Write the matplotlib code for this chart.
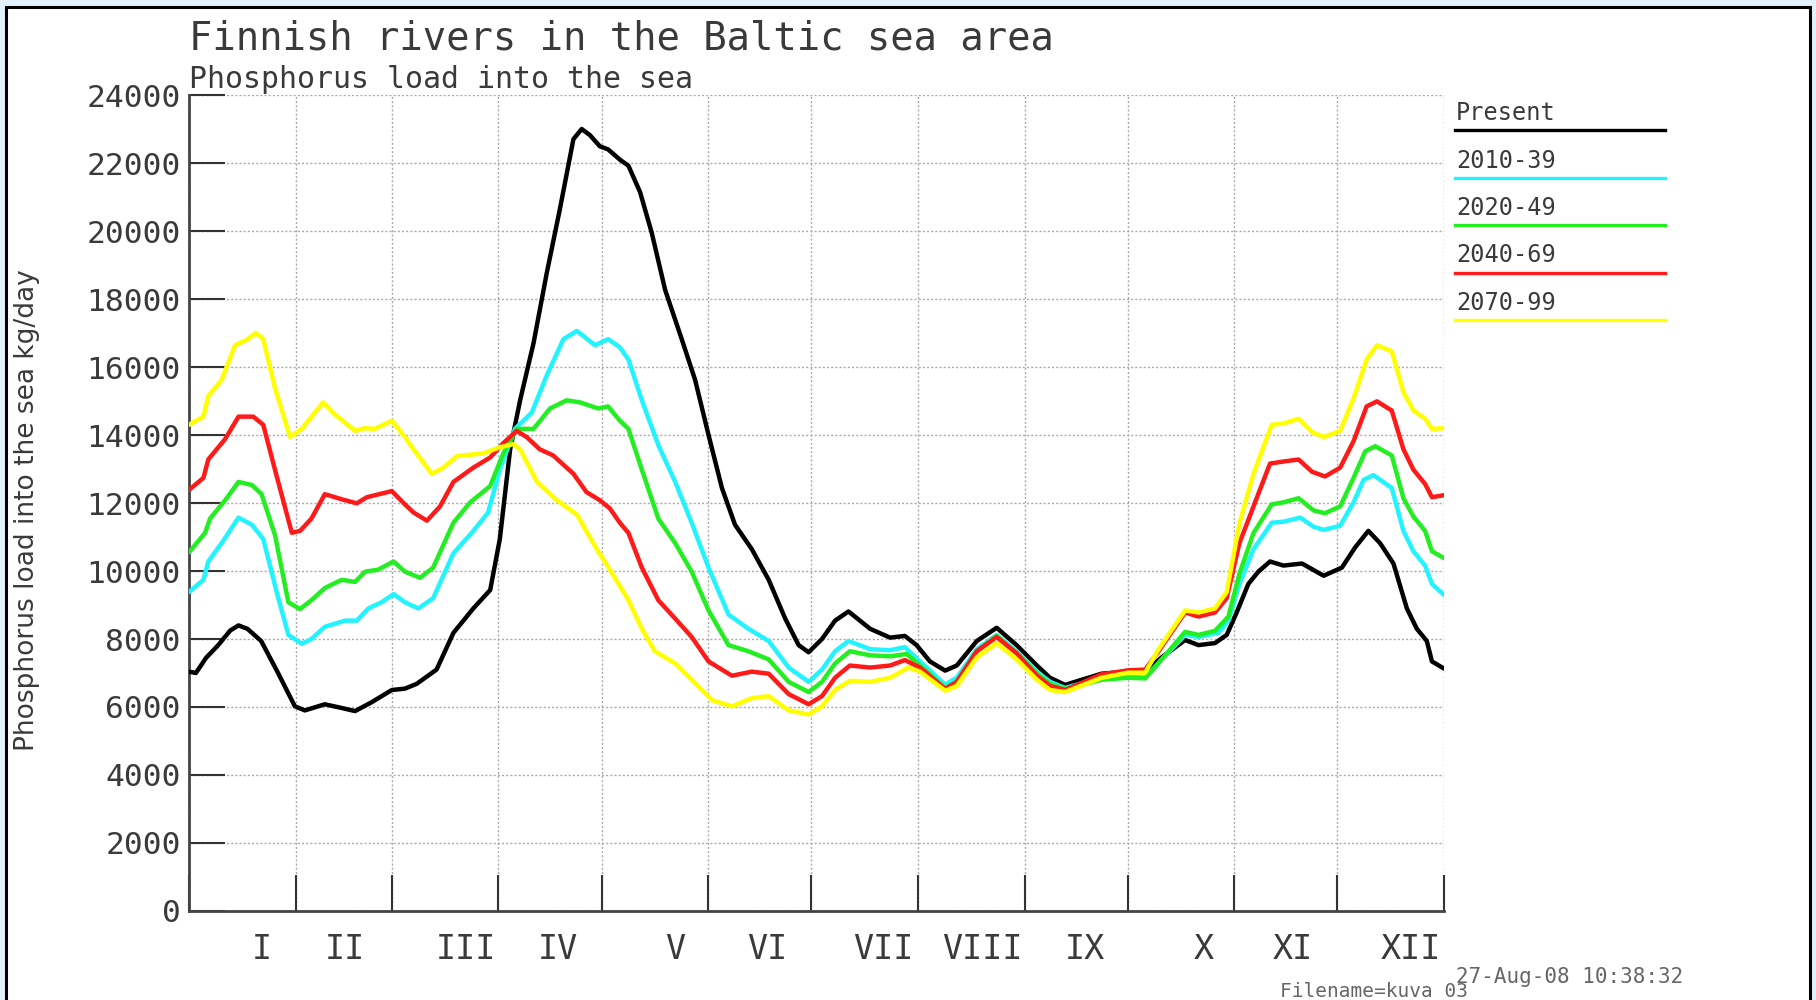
""" Finnish rivers in the Baltic sea area

Phosphorus load into the sea, present and four future scenarios

"""

import numpy as np
import matplotlib
matplotlib.use('Agg')
from matplotlib import pyplot as plt
from matplotlib.lines import Line2D
from matplotlib.patches import Rectangle

# Month boundaries (day of year) and roman month labels
month_edges = [0, 31, 59, 90, 120, 151, 181, 212, 243, 273, 304, 334, 365]
month_names = ['I', 'II', 'III', 'IV', 'V', 'VI',
               'VII', 'VIII', 'IX', 'X', 'XI', 'XII']
month_label_days = [21.2, 45.4, 80.6, 107.3, 141.4, 168.1,
                    202.0, 230.7, 260.6, 295.2, 321.1, 355.4]

yticks = list(range(0, 24001, 2000))

# Present
present_day = [0, 2, 5, 8.5, 12, 14.4, 17, 21, 26, 30.8, 33.7, 39.5, 44, 48.3,
               53.1, 59, 62.8, 66.2, 72, 76.9, 82.7, 87.6, 90.4, 93.4, 96.3,
               100.2, 104, 107.9, 111.8, 114.2, 116.6, 119.5, 121.9, 125.3,
               127.8, 131.2, 134.6, 138.5, 143.3, 147.2, 151.1, 155, 158.8,
               163.7, 168.6, 173.4, 177.3, 180.2, 184.1, 187.9, 191.8, 198.1,
               203.9, 208.2, 211.6, 215.5, 219.9, 223.3, 229.1, 234.9, 240.7,
               246.6, 250.4, 254.8, 259.6, 265.4, 273.2, 278.1, 282.9, 289.7,
               293.6, 298.4, 301.8, 304.7, 308.1, 311, 314.4, 318.3, 323.7,
               330, 335.3, 339.2, 343, 346.4, 350.3, 354.2, 357.1, 360, 361.5,
               365]
present_load = [7040, 7000, 7450, 7820, 8250, 8400, 8300, 7940, 6980, 6020,
                5900, 6080, 5980, 5880, 6140, 6500, 6540, 6680, 7100, 8180,
                8900, 9440, 10940, 13580, 15020, 16700, 18740, 20660, 22700,
                23000, 22820, 22490, 22400, 22100, 21920, 21140, 19940, 18260,
                16820, 15620, 14000, 12440, 11360, 10640, 9740, 8600, 7820,
                7610, 8000, 8540, 8810, 8300, 8040, 8090, 7820, 7340, 7070,
                7220, 7940, 8330, 7820, 7220, 6860, 6650, 6800, 6980, 7040,
                7040, 7460, 7970, 7820, 7880, 8120, 8780, 9620, 9980, 10280,
                10160, 10220, 9860, 10100, 10700, 11180, 10820, 10220, 8900,
                8300, 7940, 7340, 7130]

# 2010-39
s2010_day = [0, 4.2, 5.6, 9.5, 14.4, 18.3, 21.6, 25.5, 28.9, 32.8, 35.6, 39.5,
             45.4, 48.8, 52.2, 56, 59.5, 62.8, 66.7, 71, 76.9, 82.7, 87, 90.4,
             94.8, 99.7, 104, 108.9, 112.8, 118.1, 121.9, 125.3, 127.8, 131.7,
             136.5, 141.4, 146.2, 151.1, 156.9, 162.7, 168.6, 174.4, 180.2,
             184.1, 187.9, 191.8, 198.1, 203.9, 208.2, 212.6, 219.9, 223.3,
             229.1, 234.9, 240.7, 246.6, 250.4, 254.8, 265.4, 273.2, 278.1,
             282.9, 289.7, 293.6, 299.4, 302.3, 305.5, 309.6, 314.9, 318.3,
             323.2, 327.1, 330, 334.8, 338.7, 341.6, 344.5, 349.8, 353.2,
             356.1, 359.5, 361.5, 365]
s2010_load = [9380, 9740, 10280, 10820, 11570, 11360, 10940, 9380, 8120, 7860,
              8000, 8360, 8540, 8540, 8900, 9080, 9320, 9080, 8900, 9200,
              10520, 11180, 11720, 12980, 14180, 14660, 15740, 16820, 17060,
              16640, 16820, 16580, 16220, 15020, 13700, 12620, 11420, 10100,
              8720, 8300, 7940, 7160, 6740, 7100, 7640, 7940, 7700, 7670,
              7760, 7340, 6660, 6860, 7700, 8120, 7640, 7040, 6740, 6560,
              6860, 6920, 6860, 7400, 8120, 8060, 8180, 8540, 9620, 10640,
              11420, 11450, 11570, 11300, 11210, 11330, 12020, 12680, 12820,
              12440, 11180, 10580, 10160, 9620, 9300]

# 2020-49
s2020_day = [0, 4.7, 6.1, 10.5, 14.4, 18.3, 21.1, 25, 28.9, 32.3, 35.6, 39.5,
             44.4, 48.3, 51.2, 55, 59.5, 62.8, 67.2, 71, 76.9, 81.8, 87.6,
             91.4, 95.3, 100.2, 105, 109.8, 113.7, 119, 121.9, 125.3, 127.8,
             131.7, 136.5, 141.4, 146.2, 151.1, 156.9, 162.7, 168.6, 174.4,
             180.2, 184.1, 187.9, 192.2, 198.1, 203.9, 208.7, 212.6, 219.9,
             223.3, 229.1, 234.9, 240.7, 246.6, 250.4, 254.8, 265.4, 273.2,
             278.1, 282.9, 289.7, 293.6, 298.4, 302.3, 305.5, 309.6, 314.9,
             318.3, 322.7, 327.1, 330.4, 334.8, 338.7, 342.1, 345, 349.8,
             353.2, 356.1, 359.5, 361.5, 365]
s2020_load = [10550, 11124, 11540, 12080, 12620, 12530, 12260, 11060, 9080,
              8880, 9140, 9500, 9740, 9680, 9980, 10040, 10280, 9980, 9800,
              10100, 11420, 12020, 12500, 13460, 14180, 14180, 14780, 15020,
              14960, 14780, 14840, 14420, 14180, 12980, 11540, 10820, 9980,
              8840, 7820, 7640, 7400, 6740, 6440, 6740, 7280, 7640, 7520,
              7490, 7560, 7220, 6560, 6740, 7640, 8090, 7580, 6980, 6680,
              6530, 6800, 6860, 6840, 7400, 8210, 8120, 8240, 8660, 9920,
              11120, 11960, 12020, 12140, 11780, 11700, 11900, 12740, 13520,
              13670, 13400, 12140, 11600, 11180, 10580, 10380]

# 2040-69
s2040_day = [0, 4.2, 5.6, 10.5, 14.4, 18.7, 21.6, 25, 29.9, 32.3, 35.6, 39.5,
             44.4, 48.8, 51.7, 59, 62.8, 65.3, 69.2, 73, 76.9, 82.7, 87.6,
             91.4, 95.3, 98.2, 102, 105.9, 111.8, 115.6, 119.5, 122.4, 125.3,
             127.8, 131.7, 136.5, 141.4, 146.2, 151.1, 157.9, 163.7, 168.6,
             174.4, 180.2, 184.1, 187.9, 192.2, 198.1, 203.9, 208.2, 212.6,
             219.9, 223.3, 229.1, 234.9, 240.7, 246.6, 250.4, 254.8, 265.4,
             273.2, 278.1, 282, 289.7, 293.6, 298.4, 301.8, 305.5, 309.6,
             314.4, 318.3, 322.7, 326.6, 330.4, 334.8, 338.7, 342.5, 345.5,
             349.8, 353.2, 356.1, 359.5, 361.5, 365]
s2040_load = [12384, 12740, 13280, 13880, 14540, 14540, 14300, 12980, 11124,
              11180, 11540, 12260, 12110, 11990, 12170, 12350, 11960, 11720,
              11480, 11900, 12620, 13040, 13340, 13760, 14120, 13940, 13580,
              13400, 12860, 12320, 12080, 11840, 11420, 11120, 10100, 9140,
              8600, 8060, 7340, 6920, 7040, 6980, 6380, 6080, 6320, 6860,
              7220, 7160, 7220, 7380, 7160, 6530, 6740, 7640, 8060, 7580,
              6920, 6620, 6500, 6960, 7080, 7100, 7640, 8780, 8660, 8780,
              9200, 10820, 11900, 13160, 13220, 13280, 12920, 12780, 13040,
              13820, 14840, 14990, 14720, 13580, 12980, 12560, 12170, 12230]

# 2070-99
s2070_day = [0, 4.2, 5.6, 9.5, 13.4, 16.8, 19.4, 21.6, 25, 29.4, 32.8, 39,
             42.5, 48.3, 51, 54, 59, 62.8, 65.3, 70.6, 74, 77.9, 85.6, 90.4,
             94.3, 96.3, 101.2, 107, 112.8, 118.6, 122.4, 125.3, 127.8, 131.7,
             135.5, 141.4, 146.2, 152.1, 157.9, 163.7, 168.6, 174.4, 180.2,
             184.1, 187.9, 192.2, 198.1, 203.9, 209.2, 212.6, 219.9, 223.3,
             229.1, 234.9, 240.7, 246.6, 250.4, 254.8, 265.4, 273.2, 278.1,
             282, 289.7, 293.6, 298.4, 301.8, 305.5, 309.6, 314.9, 318.3,
             322.7, 326.6, 330, 334.8, 338.7, 342.5, 345.5, 349.8, 353.2,
             356.1, 359.5, 361.5, 365]
s2070_load = [14300, 14540, 15140, 15620, 16640, 16800, 17000, 16820, 15380,
              13940, 14180, 14960, 14600, 14120, 14200, 14180, 14420, 13940,
              13580, 12860, 13040, 13380, 13460, 13640, 13730, 13580, 12620,
              12080, 11660, 10640, 10040, 9560, 9140, 8300, 7640, 7280, 6800,
              6200, 6020, 6260, 6320, 5900, 5780, 6020, 6500, 6770, 6740,
              6860, 7160, 7040, 6480, 6620, 7460, 7880, 7400, 6800, 6500,
              6440, 6860, 7010, 7010, 7700, 8840, 8780, 8900, 9380, 11400,
              12860, 14300, 14340, 14480, 14090, 13940, 14120, 15080, 16220,
              16640, 16460, 15260, 14720, 14480, 14180, 14200]

series_labels = ['Present', '2010-39', '2020-49', '2040-69', '2070-99']
series_colors = ['#000000', '#22f4ff', '#22ee22', '#ff1a1a', '#ffff00']

W, H = 1816, 1000
MONO = 'DejaVu Sans Mono'
TXT = '#3a3a3a'


def fx(px):
    return px / W


def fy(py):
    return 1 - py / H


def main():
    fig = plt.figure(figsize=(W / 100, H / 100), dpi=100, facecolor='#e2f1fc')
    # white sheet with black frame
    fig.patches.append(Rectangle((fx(6), -0.02), fx(1810) - fx(6), fy(7) + 0.02,
                                 transform=fig.transFigure, facecolor='white',
                                 edgecolor='black', lw=2.2, zorder=-1))

    ax = fig.add_axes([fx(189), fy(911), fx(1444) - fx(189), fy(95) - fy(911)])
    ax.set_facecolor('white')

    data = [(present_day, present_load), (s2010_day, s2010_load),
            (s2020_day, s2020_load), (s2040_day, s2040_load),
            (s2070_day, s2070_load)]
    for (d, v), c in zip(data, series_colors):
        ax.plot(np.array(d), np.array(v), color=c, lw=3.2,
                solid_joinstyle='round', solid_capstyle='round', zorder=3)

    ax.set_xlim(0, 365)
    ax.set_ylim(0, 24000)

    # grid at month edges and every 2000
    ax.set_xticks(month_edges)
    ax.set_xticklabels([])
    ax.set_yticks(yticks)
    ax.set_yticklabels([str(t) for t in yticks], family=MONO, fontsize=22.5,
                       color=TXT)
    ax.grid(True, color='#aaaaaa', lw=1.0, ls=(0, (1.5, 1.5)), zorder=1)
    ax.tick_params(axis='both', which='major', direction='in', length=26,
                   width=1.5, color='#333333')
    ax.tick_params(axis='y', pad=6)

    # month names as minor ticks without tick marks
    ax.set_xticks(month_label_days, minor=True)
    ax.set_xticklabels(month_names, minor=True, family=MONO, fontsize=24,
                       color=TXT)
    ax.tick_params(axis='x', which='minor', length=0, pad=16)

    for s in ['top', 'right']:
        ax.spines[s].set_visible(False)
    for s in ['left', 'bottom']:
        ax.spines[s].set_color('#444444')
        ax.spines[s].set_linewidth(2.0)

    # titles
    fig.text(fx(189), fy(49), 'Finnish rivers in the Baltic sea area',
             family=MONO, fontsize=28, color=TXT, va='baseline')
    fig.text(fx(189), fy(88), 'Phosphorus load into the sea',
             family=MONO, fontsize=21.5, color=TXT, va='baseline')
    fig.text(fx(27), fy(510), 'Phosphorus load into the sea kg/day',
             family='DejaVu Sans', fontsize=19, color=TXT, rotation=90,
             va='center', ha='center')

    # legend: label above a coloured line
    for i, (lab, c) in enumerate(zip(series_labels, series_colors)):
        yl = 130 + i * 47.5
        fig.add_artist(Line2D([fx(1455), fx(1665)], [fy(yl), fy(yl)],
                              color=c, lw=2.4, transform=fig.transFigure))
        fig.text(fx(1456), fy(yl - 10), lab, family=MONO, fontsize=17,
                 color=TXT, va='baseline')

    fig.text(fx(1456), fy(983), '27-Aug-08 10:38:32', family=MONO,
             fontsize=15, color='#666666', va='baseline')
    fig.text(fx(1280), fy(997), 'Filename=kuva 03', family=MONO,
             fontsize=14, color='#666666', va='baseline')

    fig.savefig('out.png', dpi=100, facecolor=fig.get_facecolor())


if __name__ == '__main__':
    main()
